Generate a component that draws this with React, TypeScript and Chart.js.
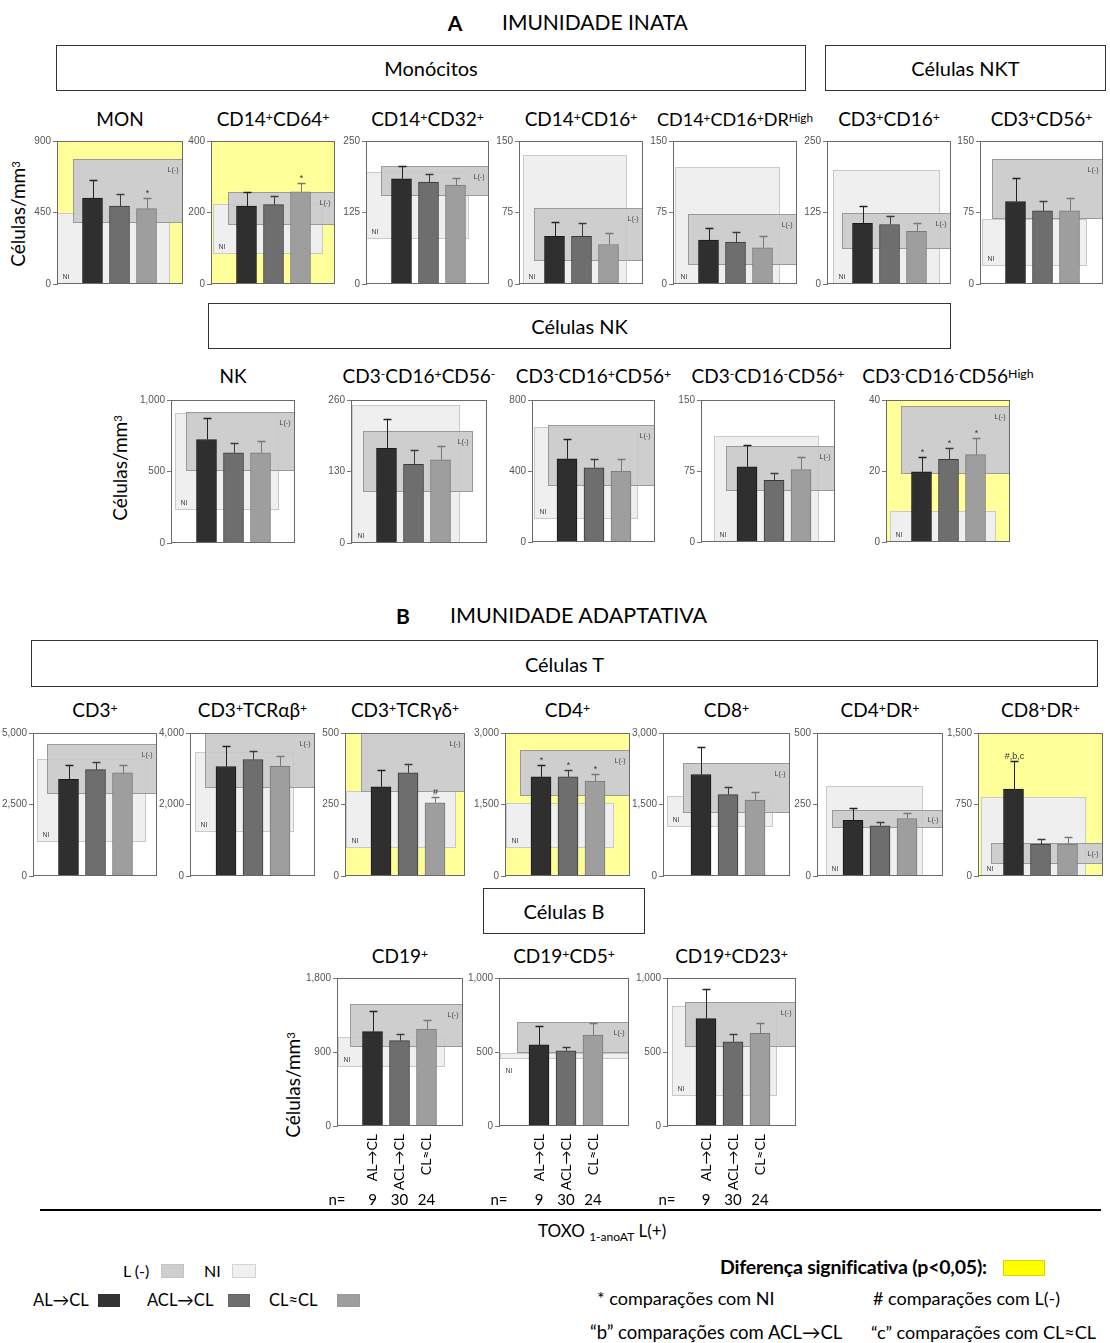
import React, { useEffect, useRef } from 'react';
import { Chart, registerables } from 'chart.js';
Chart.register(...registerables);

// ---------- DATA ----------
const groupLabels = ['AL→CL', 'ACL→CL', 'CL≈CL'];
const groupN = ['9', '30', '24'];

const panelTitles = [
  'MON', 'CD14^{+}CD64^{+}', 'CD14^{+}CD32^{+}', 'CD14^{+}CD16^{+}', 'CD14^{+}CD16^{+}DR^{High}', 'CD3^{+}CD16^{+}', 'CD3^{+}CD56^{+}',
  'NK', 'CD3^{-}CD16^{+}CD56^{-}', 'CD3^{-}CD16^{+}CD56^{+}', 'CD3^{-}CD16^{-}CD56^{+}', 'CD3^{-}CD16^{-}CD56^{High}',
  'CD3^{+}', 'CD3^{+}TCRαβ^{+}', 'CD3^{+}TCRγδ^{+}', 'CD4^{+}', 'CD8^{+}', 'CD4^{+}DR^{+}', 'CD8^{+}DR^{+}',
  'CD19^{+}', 'CD19^{+}CD5^{+}', 'CD19^{+}CD23^{+}',
];
const axisMax = [900, 400, 250, 150, 150, 250, 150, 1000, 260, 800, 150, 40, 5000, 4000, 500, 3000, 3000, 500, 1500, 1800, 1000, 1000];

const meanALtoCL = [541, 218, 184, 50, 46, 106, 86.5, 724, 172, 469, 79.4, 19.8, 3382, 3063, 312, 2080, 2129, 195, 911, 1148, 548, 725];
const meanACLtoCL = [490, 222, 178, 50, 44, 104, 76.7, 631, 143, 418, 65.2, 23.3, 3717, 3259, 361, 2080, 1708, 175, 335, 1039, 508, 568];
const meanCLeqCL = [474, 258, 173, 41.4, 38, 92, 76.7, 631, 151, 400, 76.4, 24.6, 3605, 3071, 256, 1991, 1594, 201, 335, 1180, 615, 626];

const sdALtoCL = [116, 40, 23, 15.5, 13, 30, 24.5, 152, 53, 110, 23.1, 4.1, 491, 571, 57, 252, 583, 43, 294, 253, 130, 199];
const sdACLtoCL = [78, 23, 14, 14, 11, 15, 10.3, 66, 26, 47, 7.8, 3.3, 256, 241, 31, 136, 154, 15, 57, 76, 29, 52];
const sdCLeqCL = [67, 24, 12, 11.6, 12, 14, 13.3, 84, 25, 65, 13.6, 4.7, 279, 277, 19, 157, 160, 19, 77, 109, 79, 72];

// reference ranges (low, high)
const niRange = [
  [0, 450], [83, 224], [79, 196], [0, 135], [0, 123], [0, 200], [18.7, 68],
  [229, 910], [0, 251], [130, 646], [0, 112], [0, 8.8],
  [1205, 4096], [1223, 3464], [97, 298], [580, 1534], [1018, 1688], [0, 316], [0, 827],
  [713, 1079], [455, 490], [206, 810],
];
const lnegRange = [
  [383, 784], [164, 256], [153, 206], [24, 80], [20, 73], [61, 124], [68, 131],
  [506, 917], [92, 204], [315, 661], [54.3, 101.5], [19.2, 38.2],
  [2879, 4598], [2473, 4000], [295, 500], [1670, 2645], [1326, 2364], [167, 231], [127, 342],
  [966, 1478], [492, 705], [532, 839],
];
const significant = [true, true, false, false, false, false, false, false, false, false, false, true,
  false, false, true, true, false, false, true, false, false, false];
const marksALtoCL = ['', '', '', '', '', '', '', '', '', '', '', '*', '', '', '', '*', '', '', '#,b,c', '', '', ''];
const marksACLtoCL = ['', '', '', '', '', '', '', '', '', '', '', '*', '', '', '', '*', '', '', '', '', '', ''];
const marksCLeqCL = ['*', '*', '', '', '', '', '', '', '', '', '', '*', '', '', '#', '*', '', '', '', '', '', ''];

// ---------- LAYOUT (positions / sizes only) ----------
const plotBoxes = [
  [57, 141, 126, 148], [211, 141, 124, 148], [366, 141, 123, 148], [519, 141, 124, 148], [673, 141, 124, 148], [827, 141, 124, 148], [980, 141, 123, 148],
  [171, 400, 124, 148], [351, 400, 136, 148], [532, 400, 123, 147], [701, 400, 134, 147], [886, 400, 124, 147],
  [33, 733, 124, 148], [190, 733, 125, 148], [345, 733, 120, 148], [505, 733, 125, 148], [663, 733, 127, 148], [817, 733, 126, 148], [978, 733, 125, 148],
  [337, 978, 126, 148], [499, 978, 130, 148], [667, 978, 129, 148],
];
const niSpan = [
  [0, 0.894], [0.02, 0.9], [0, 0.84], [0.03, 0.87], [0.02, 0.86], [0.05, 0.91], [0.02, 0.87],
  [0.03, 0.87], [0.01, 0.8], [0.02, 0.86], [0.1, 0.88], [0.03, 0.89],
  [0.035, 0.91], [0.04, 0.83], [0.01, 0.925], [0.01, 0.87], [0.03, 0.87], [0.07, 0.84], [0.02, 0.86],
  [0.01, 0.86], [0.01, 1], [0.04, 0.85],
];
const lnegSpan = [
  [0.124, 1], [0.14, 1], [0.12, 1], [0.12, 1], [0.12, 1], [0.12, 1], [0.1, 1],
  [0.12, 1], [0.085, 0.895], [0.13, 1], [0.19, 1], [0.12, 1],
  [0.11, 1], [0.12, 1], [0.13, 1], [0.12, 1], [0.16, 1], [0.12, 1], [0.1, 1],
  [0.1, 1], [0.14, 1], [0.14, 1],
];
const firstBarOffset = [35.5, 35.5, 35.5, 35.5, 35.5, 35.5, 35.5, 35.5, 35.5, 35, 46, 35.5,
  35.5, 36, 36, 36, 38, 36, 35.5, 35.5, 40, 39];
const titleRowY = [119, 119, 119, 119, 119, 119, 119, 376, 376, 376, 376, 376, 710, 710, 710, 710, 710, 710, 710, 956, 956, 956];
const bottomRow = [19, 20, 21];
const BAR_SPACING = 27;
const PAD_L = 44, PAD_T = 10, PAD_R = 4;
const barColors = ['#2f2f2f', '#6e6e6e', '#9e9e9e'];
const errColors = ['#222222', '#3c3c3c', '#777777'];

function parseTitle(t: string) {
  const parts: any[] = [];
  const re = /\^\{([^}]*)\}/g;
  let last = 0; let m: any; let k = 0;
  while ((m = re.exec(t)) !== null) {
    if (m.index > last) parts.push(<span key={k++}>{t.slice(last, m.index)}</span>);
    parts.push(<sup key={k++} style={{ fontSize: '0.65em', verticalAlign: 'top', position: 'relative', top: '-0.15em' }}>{m[1]}</sup>);
    last = re.lastIndex;
  }
  if (last < t.length) parts.push(<span key={k++}>{t.slice(last)}</span>);
  return parts;
}

function makeDecor(i: number) {
  const isBottom = bottomRow.includes(i);
  return {
    id: 'decor' + i,
    beforeDatasetsDraw(chart: any) {
      const { ctx, chartArea } = chart;
      const { left, top, right, bottom } = chartArea;
      const w = right - left;
      const ys = chart.scales.y;
      ctx.save();
      if (significant[i]) {
        ctx.fillStyle = '#ffff9a';
        ctx.fillRect(left, top, w, bottom - top);
      }
      const rect = (r: number[], s: number[]) => {
        const x0 = Math.round(left + s[0] * w) + 0.5;
        const x1 = Math.round(left + s[1] * w) - 0.5;
        const yTop = Math.round(ys.getPixelForValue(r[1])) + 0.5;
        const yBot = Math.round(ys.getPixelForValue(r[0])) - 0.5;
        return [x0, yTop, x1 - x0, yBot - yTop];
      };
      const ni = rect(niRange[i], niSpan[i]);
      const ln = rect(lnegRange[i], lnegSpan[i]);
      ctx.fillStyle = '#efefef';
      ctx.fillRect(ni[0], ni[1], ni[2], ni[3]);
      ctx.fillStyle = '#cecece';
      ctx.fillRect(ln[0], ln[1], ln[2], ln[3]);
      ctx.lineWidth = 1;
      ctx.strokeStyle = '#c9c9c9';
      ctx.strokeRect(ni[0], ni[1], ni[2], ni[3]);
      ctx.strokeStyle = '#9a9a9a';
      ctx.strokeRect(ln[0], ln[1], ln[2], ln[3]);
      ctx.fillStyle = '#444';
      ctx.font = '7px "Liberation Sans", Arial, sans-serif';
      ctx.textBaseline = 'alphabetic';
      ctx.textAlign = 'left';
      if (ni[3] > 14) ctx.fillText('NI', ni[0] + 5, ni[1] + ni[3] - 5);
      else ctx.fillText('NI', ni[0] + 5, ni[1] + ni[3] + 14);
      ctx.textAlign = 'right';
      const ly = Math.min(ln[1] + 12, ln[1] + ln[3] / 2 + 3);
      ctx.fillText('L(-)', ln[0] + ln[2] - 4, ly);
      ctx.restore();
    },
    afterDatasetsDraw(chart: any) {
      const { ctx, chartArea } = chart;
      const { left, top, right, bottom } = chartArea;
      const ys = chart.scales.y;
      const meta = chart.getDatasetMeta(0);
      const means = [meanALtoCL[i], meanACLtoCL[i], meanCLeqCL[i]];
      const sds = [sdALtoCL[i], sdACLtoCL[i], sdCLeqCL[i]];
      const marks = [marksALtoCL[i], marksACLtoCL[i], marksCLeqCL[i]];
      ctx.save();
      meta.data.forEach((el: any, k: number) => {
        const x = Math.round(el.x) + 0.5;
        const yb = ys.getPixelForValue(means[k]);
        const yc = Math.round(ys.getPixelForValue(means[k] + sds[k])) + 0.5;
        ctx.strokeStyle = errColors[k];
        ctx.lineWidth = 1;
        ctx.beginPath();
        ctx.moveTo(x, yb);
        ctx.lineTo(x, yc);
        ctx.stroke();
        ctx.lineWidth = 1.5;
        ctx.beginPath();
        ctx.moveTo(x - 4, yc);
        ctx.lineTo(x + 4, yc);
        ctx.stroke();
        if (marks[k]) {
          ctx.fillStyle = '#333';
          ctx.font = '9px "Liberation Sans", Arial, sans-serif';
          ctx.textAlign = 'center';
          ctx.textBaseline = 'alphabetic';
          ctx.fillText(marks[k], x, yc - 3);
        }
      });
      ctx.strokeStyle = '#6a6a6a';
      ctx.lineWidth = 1;
      ctx.strokeRect(Math.round(left) + 0.5, Math.round(top) + 0.5, Math.round(right - left) - 1, Math.round(bottom - top) - 1);
      if (isBottom) {
        ctx.fillStyle = '#000';
        ctx.font = '15px Lato, "Open Sans", sans-serif';
        ctx.textAlign = 'center';
        ctx.textBaseline = 'middle';
        const ny = bottom + 74;
        ctx.fillText('n=', left, ny);
        meta.data.forEach((el: any, k: number) => ctx.fillText(groupN[k], el.x, ny));
      }
      ctx.restore();
    },
  };
}

function Panel({ i }: { i: number }) {
  const ref = useRef<HTMLCanvasElement>(null);
  const [px, py, pw, ph] = plotBoxes[i];
  const isBottom = bottomRow.includes(i);
  const padB = isBottom ? 86 : 3;
  const cw = pw + PAD_L + PAD_R;
  const ch = ph + PAD_T + padB;
  useEffect(() => {
    const xMin = 1 - firstBarOffset[i] / BAR_SPACING;
    const xMax = xMin + pw / BAR_SPACING;
    const values = [meanALtoCL[i], meanACLtoCL[i], meanCLeqCL[i]];
    const chart = new Chart(ref.current as HTMLCanvasElement, {
      type: 'bar',
      data: {
        datasets: [{
          data: values.map((v, k) => ({ x: k + 1, y: v })),
          backgroundColor: barColors,
          borderColor: ['#1a1a1a', '#3a3a3a', '#7a7a7a'],
          borderWidth: 1,
          barThickness: 20,
        }],
      },
      options: {
        animation: false,
        responsive: false,
        devicePixelRatio: 1,
        events: [],
        layout: { padding: { left: 0, top: PAD_T, right: PAD_R, bottom: isBottom ? 0 : padB } },
        plugins: { legend: { display: false }, tooltip: { enabled: false } },
        scales: {
          x: {
            type: 'linear',
            min: xMin,
            max: xMax,
            offset: false,
            bounds: 'data',
            display: isBottom,
            grid: { display: false, offset: false },
            border: { display: false },
            afterBuildTicks: (axis: any) => { axis.ticks = [1, 2, 3].map((v) => ({ value: v })); },
            afterFit: (axis: any) => { axis.height = padB; },
            ticks: {
              autoSkip: false,
              minRotation: 90,
              maxRotation: 90,
              padding: 0,
              color: '#000',
              font: { size: 14, family: 'Lato, "Open Sans", sans-serif' },
              callback: (v: any) => groupLabels[Math.round(v) - 1] ?? '',
            },
          },
          y: {
            type: 'linear',
            min: 0,
            max: axisMax[i],
            afterFit: (axis: any) => { axis.width = PAD_L; },
            grid: { drawOnChartArea: false, drawTicks: true, tickLength: 4, color: '#777' },
            border: { display: true, color: '#777' },
            ticks: {
              stepSize: axisMax[i] / 2,
              padding: 2,
              color: '#555',
              font: { size: 10, family: '"Liberation Sans", Arial, sans-serif' },
            },
          },
        },
      } as any,
      plugins: [makeDecor(i)],
    });
    return () => chart.destroy();
  }, [i]);
  return (
    <canvas
      ref={ref}
      width={cw}
      height={ch}
      style={{ position: 'absolute', left: px - PAD_L, top: py - PAD_T, width: cw, height: ch }}
    />
  );
}

const abs = (x: number, y: number, extra: any = {}) => ({
  position: 'absolute' as const, left: x, top: y, transform: 'translate(-50%, -50%)', whiteSpace: 'nowrap' as const, ...extra,
});

function Box({ x0, y0, x1, y1, text }: { x0: number; y0: number; x1: number; y1: number; text: string }) {
  return (
    <div style={{
      position: 'absolute', left: x0, top: y0, width: x1 - x0, height: y1 - y0, boxSizing: 'border-box',
      border: '1px solid #333', display: 'flex', alignItems: 'center', justifyContent: 'center', fontSize: 20,
    }}>{text}</div>
  );
}

function YTitle({ x, y }: { x: number; y: number }) {
  return (
    <div style={abs(x, y, { transform: 'translate(-50%, -50%) rotate(-90deg)', fontSize: 19, lineHeight: '20px' })}>
      Células/mm<sup style={{ fontSize: '0.6em', verticalAlign: 'top', position: 'relative', top: '-0.2em' }}>3</sup>
    </div>
  );
}

function Swatch({ x, y, w, h, color, border }: any) {
  return <div style={{ position: 'absolute', left: x, top: y, width: w, height: h, background: color, boxSizing: 'border-box', border: `1px solid ${border}` }} />;
}

const legendText = (x: number, y: number, size: number, extra: any = {}) => ({
  position: 'absolute' as const, left: x, top: y, fontSize: size, lineHeight: '20px', whiteSpace: 'nowrap' as const, ...extra,
});

export default function App() {
  return (
    <div style={{
      position: 'absolute', left: 0, top: 0, width: 1110, height: 1343, background: '#fff', overflow: 'hidden',
      fontFamily: 'Lato, "Open Sans", sans-serif', color: '#000',
    }}>
      {/* Section headers */}
      <div style={abs(455, 22, { fontSize: 21, fontWeight: 700 })}>A</div>
      <div style={legendText(502, 12, 21)}>IMUNIDADE INATA</div>
      <div style={abs(403, 615, { fontSize: 21, fontWeight: 700 })}>B</div>
      <div style={legendText(450, 605, 21.5)}>IMUNIDADE ADAPTATIVA</div>

      <Box x0={56} y0={45} x1={806} y1={91} text="Monócitos" />
      <Box x0={825} y0={45} x1={1106} y1={91} text="Células NKT" />
      <Box x0={208} y0={303} x1={951} y1={349} text="Células NK" />
      <Box x0={31} y0={640} x1={1098} y1={687} text="Células T" />
      <Box x0={483} y0={888} x1={645} y1={934} text="Células B" />

      <YTitle x={18} y={214} />
      <YTitle x={120} y={468} />
      <YTitle x={293} y={1085} />

      {panelTitles.map((t, i) => (
        <div key={'t' + i} style={abs(plotBoxes[i][0] + plotBoxes[i][2] / 2, titleRowY[i], { fontSize: i === 4 ? 18 : 19, lineHeight: '22px' })}>
          {parseTitle(t)}
        </div>
      ))}

      {panelTitles.map((_, i) => <Panel key={'p' + i} i={i} />)}

      {/* bottom axis line & caption */}
      <div style={{ position: 'absolute', left: 40, top: 1209, width: 1061, height: 2, background: '#000' }} />
      <div style={legendText(538, 1221, 17)}>
        TOXO <sub style={{ fontSize: 12 }}>1-anoAT</sub> L(+)
      </div>

      {/* left legend */}
      <div style={legendText(123, 1261, 16)}>L (-)</div>
      <Swatch x={161} y={1264} w={23} h={14} color="#cecece" border="#c4c4c4" />
      <div style={legendText(204, 1261, 16)}>NI</div>
      <Swatch x={232} y={1264} w={24} h={14} color="#f0f0f0" border="#d4d4d4" />
      <div style={legendText(33, 1290, 16.5)}>AL→CL</div>
      <Swatch x={98} y={1294} w={22} h={13} color="#333" border="#333" />
      <div style={legendText(147, 1290, 16.5)}>ACL→CL</div>
      <Swatch x={228} y={1294} w={22} h={13} color="#6e6e6e" border="#666" />
      <div style={legendText(269, 1290, 16.5)}>CL≈CL</div>
      <Swatch x={337} y={1294} w={23} h={13} color="#9e9e9e" border="#999" />

      {/* right legend */}
      <div style={legendText(720, 1257, 19.5, { fontWeight: 700, letterSpacing: '-0.2px' })}>Diferença significativa (p&lt;0,05):</div>
      <Swatch x={1003} y={1260} w={42} h={16} color="#ffff00" border="#e0d000" />
      <div style={legendText(597, 1288, 18)}>* comparações com NI</div>
      <div style={legendText(873, 1288, 18)}># comparações com L(-)</div>
      <div style={legendText(590, 1322, 18.5)}>“b” comparações com ACL→CL</div>
      <div style={legendText(871, 1322, 18)}>“c” comparações com CL≈CL</div>
    </div>
  );
}
